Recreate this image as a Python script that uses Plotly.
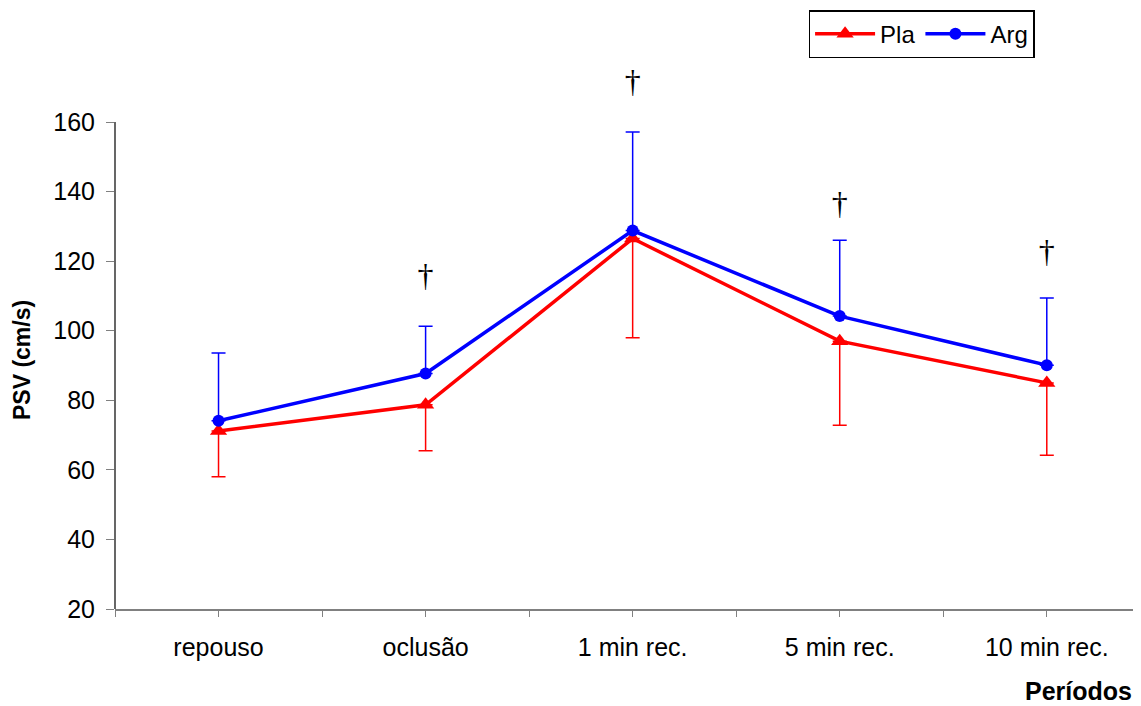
import plotly.graph_objects as go

categories = ["repouso", "oclusão", "1 min rec.", "5 min rec.", "10 min rec."]
pla_mean = [71.2, 78.7, 126.5, 97.0, 85.0]
pla_sd = [13.2, 13.2, 28.5, 24.2, 20.8]
arg_mean = [74.1, 87.7, 128.8, 104.2, 90.1]
arg_sd = [19.5, 13.6, 28.3, 21.8, 19.3]
dagger_cats = ["oclusão", "1 min rec.", "5 min rec.", "10 min rec."]
dagger_y = [115.2, 170.9, 135.9, 122.1]
y_ticks = [20, 40, 60, 80, 100, 120, 140, 160]

xpos = list(range(len(categories)))
idx = {c: i for i, c in enumerate(categories)}

fig = go.Figure()
fig.add_trace(go.Scatter(
    x=xpos, y=pla_mean, name="Pla", mode="lines+markers",
    line=dict(color="#ff0000", width=3.5),
    marker=dict(symbol="triangle-up", size=15, color="#ff0000"),
    error_y=dict(type="data", symmetric=False, array=[0]*5, arrayminus=pla_sd,
                 color="#ff0000", thickness=1.5, width=7),
))
fig.add_trace(go.Scatter(
    x=xpos, y=arg_mean, name="Arg", mode="lines+markers",
    line=dict(color="#0000ff", width=3.5),
    marker=dict(symbol="circle", size=12, color="#0000ff"),
    error_y=dict(type="data", symmetric=False, array=arg_sd, arrayminus=[0]*5,
                 color="#0000ff", thickness=1.5, width=7),
))
fig.add_trace(go.Scatter(
    x=[idx[c] for c in dagger_cats], y=dagger_y, mode="text", text=["†"]*len(dagger_cats),
    textposition="middle center", cliponaxis=False, showlegend=False, hoverinfo="skip",
    textfont=dict(family="Liberation Serif", size=32, color="black"),
))

# y axis line only spans the labelled range
fig.add_shape(type="line", xref="paper", x0=0, x1=0, yref="y", y0=20, y1=160,
              line=dict(color="black", width=1.2))

fig.add_annotation(text="<b>PSV (cm/s)</b>", xref="paper", yref="paper",
                   x=-0.0906, y=0.462, textangle=-90, showarrow=False,
                   xanchor="center", yanchor="middle",
                   font=dict(family="Liberation Sans", size=23, color="black"))
fig.add_annotation(text="<b>Períodos</b>", xref="paper", yref="paper",
                   x=0.993, y=-0.152, xanchor="right", yanchor="middle", showarrow=False,
                   font=dict(family="Liberation Sans", size=25, color="black"))

fig.update_layout(
    width=1133, height=698,
    margin=dict(l=107, r=0, t=62, b=97),
    paper_bgcolor="white", plot_bgcolor="white",
    font=dict(family="Liberation Sans", size=25, color="black"),
    showlegend=True,
    legend=dict(orientation="h", x=0.676, y=1.111, xanchor="left", yanchor="top",
                bordercolor="black", borderwidth=1.5, bgcolor="white",
                font=dict(size=24), itemwidth=60, tracegroupgap=0),
    xaxis=dict(range=[-0.5, 4.455], tickvals=xpos, ticktext=categories,
               showgrid=False, zeroline=False, showline=True, linecolor="#808080",
               linewidth=1.5, ticks="outside", ticklen=6, tickcolor="#808080",
               ticklabelstandoff=9,
               minor=dict(tick0=0.5, dtick=1, ticks="outside", ticklen=6,
                          tickcolor="#808080", showgrid=False)),
    yaxis=dict(range=[20, 174.95], tickvals=y_ticks, showgrid=False, zeroline=False,
               showline=False,
               ticks="outside", ticklen=8, tickcolor="#808080",
               ticklabelstandoff=6),
)

fig.write_html("out.html")
